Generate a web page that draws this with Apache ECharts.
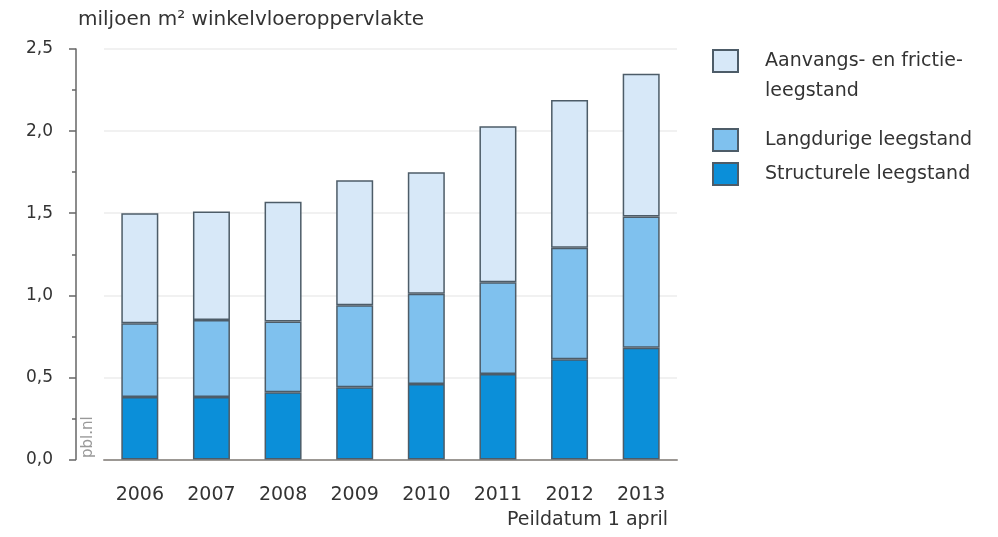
<!DOCTYPE html>
<html>
<head>
<meta charset="utf-8">
<script src="https://cdn.jsdelivr.net/npm/echarts@6/dist/echarts.min.js"></script>
<style>
  html, body { margin: 0; padding: 0; background: #fff; }
  #chart { width: 998px; height: 537px; }
</style>
</head>
<body>
<div id="chart"></div>
<script>
// jaren (peildatum 1 april)
const years = ["2006", "2007", "2008", "2009", "2010", "2011", "2012", "2013"];
// miljoen m2 winkelvloeroppervlakte, gestapeld
const structureel = [0.38, 0.38, 0.41, 0.44, 0.46, 0.52, 0.61, 0.68];
const langdurig = [0.45, 0.47, 0.43, 0.50, 0.55, 0.56, 0.68, 0.80];
const aanvangs = [0.67, 0.66, 0.73, 0.76, 0.74, 0.95, 0.90, 0.87];
const seriesNames = ["Structurele leegstand", "Langdurige leegstand", "Aanvangs- en frictie-leegstand"];

const font = "DejaVu Sans";
const chart = echarts.init(document.getElementById("chart"));

const barStyle = (color) => ({
  color: color,
  borderColor: "#4d5c68",
  borderWidth: 1.5,
});

// legenda-item, los gepositioneerd
const legendItem = (name, top, extra) => ({
  data: [name],
  left: 707,
  top: top,
  icon: "rect",
  itemWidth: 25,
  itemHeight: 22,
  selectedMode: false,
  textStyle: Object.assign({ fontFamily: font, fontSize: 19, color: "#333", padding: [0, 0, 0, 22] }, extra && extra.textStyle),
  formatter: extra && extra.formatter,
});

chart.setOption({
  animation: false,
  textStyle: { fontFamily: font, color: "#333" },
  title: {
    text: "miljoen m² winkelvloeroppervlakte",
    left: 73,
    top: 5,
    textStyle: { fontFamily: font, fontSize: 20, fontWeight: "normal", color: "#333" },
  },
  legend: [
    legendItem(seriesNames[2], 11, {
      // lege eerste regel zodat het vlakje naast de eerste tekstregel staat
      formatter: () => "\nAanvangs- en frictie-\nleegstand",
      textStyle: { lineHeight: 30 },
    }),
    legendItem(seriesNames[1], 123),
    legendItem(seriesNames[0], 157),
  ],
  grid: { left: 104, top: 49, width: 573, bottom: 77.5, containLabel: false },
  xAxis: {
    type: "category",
    data: years,
    axisLine: { lineStyle: { color: "#9c9894", width: 2 } },
    axisTick: { show: false },
    axisLabel: { fontSize: 19, color: "#333", margin: 26, fontFamily: font },
  },
  yAxis: {
    type: "value",
    min: 0,
    max: 2.5,
    interval: 0.5,
    offset: 28,
    axisLine: { show: true, lineStyle: { color: "#666", width: 1.5 } },
    axisTick: { show: true, length: 7, lineStyle: { color: "#666", width: 1.5 } },
    minorTick: { show: true, splitNumber: 2, length: 4, lineStyle: { color: "#666", width: 1.5 } },
    splitLine: { lineStyle: { color: "#ececec", width: 1.5 } },
    axisLabel: {
      fontSize: 17,
      color: "#333",
      margin: 23,
      fontFamily: font,
      formatter: (v) => v.toFixed(1).replace(".", ","),
    },
  },
  graphic: [
    {
      type: "text",
      right: 330,
      top: 511,
      style: { text: "Peildatum 1 april", fill: "#333", font: "19px " + font },
    },
    {
      type: "text",
      x: 96,
      y: 458,
      rotation: Math.PI / 2,
      style: { text: "pbl.nl", fill: "#999", font: "15px " + font, textAlign: "left", textVerticalAlign: "bottom" },
    },
  ],
  series: [
    { name: seriesNames[0], type: "bar", stack: "t", barWidth: 37, data: structureel, itemStyle: barStyle("#0b8fd9") },
    { name: seriesNames[1], type: "bar", stack: "t", barWidth: 37, data: langdurig, itemStyle: barStyle("#7fc1ee") },
    { name: seriesNames[2], type: "bar", stack: "t", barWidth: 37, data: aanvangs, itemStyle: barStyle("#d7e8f8") },
  ],
});
</script>
</body>
</html>
